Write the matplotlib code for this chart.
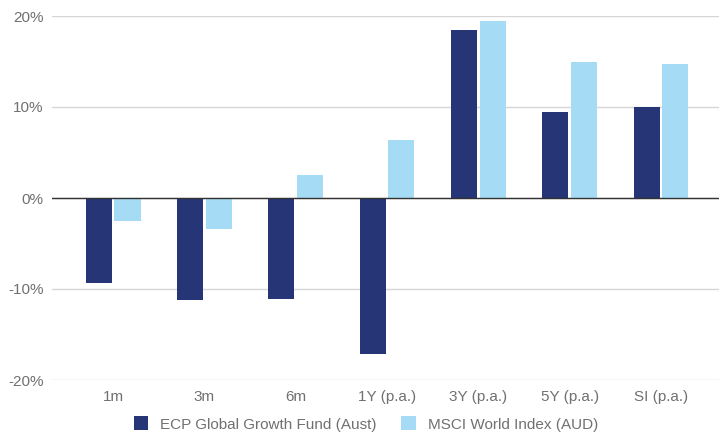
import matplotlib
matplotlib.use("Agg")
import matplotlib.pyplot as plt
from matplotlib.patches import Patch
import numpy as np

categories = ["1m", "3m", "6m", "1Y (p.a.)", "3Y (p.a.)", "5Y (p.a.)", "SI (p.a.)"]
ecp = [-9.3, -11.2, -11.1, -17.1, 18.5, 9.4, 10.0]
msci = [-2.5, -3.4, 2.5, 6.4, 19.4, 14.9, 14.7]
series_names = ["ECP Global Growth Fund (Aust)", "MSCI World Index (AUD)"]
yticks = [-20, -10, 0, 10, 20]

plt.rcParams['font.family'] = ['Liberation Sans', 'DejaVu Sans']
dark = "#253575"
light = "#A6DBF5"

fig = plt.figure(figsize=(7.19, 4.38), dpi=100)
ax = fig.add_axes([52/719, (438-380)/438, 1-52/719, (380-16)/438])

x = np.arange(len(categories))
w = 0.285
gap = 0.016
ax.bar(x - w/2 - gap, ecp, width=w, color=dark, zorder=3)
ax.bar(x + w/2 + gap, msci, width=w, color=light, zorder=3)

ax.set_ylim(-20, 20)
ax.set_xlim(-0.668, 6.635)
ax.set_yticks(yticks)
ax.set_yticklabels([f"{t}%" for t in yticks])
ax.set_xticks(x)
ax.set_xticklabels(categories)
ax.tick_params(axis='both', length=0, labelsize=11, labelcolor="#707070")
ax.tick_params(axis='y', pad=6)
ax.tick_params(axis='x', pad=7)
for s in ax.spines.values():
    s.set_visible(False)
ax.grid(axis='y', color="#d6d6d6", linewidth=1, zorder=0)
ax.axhline(0, color="#333333", linewidth=1, zorder=4)

handles = [Patch(facecolor=dark), Patch(facecolor=light)]
fig.legend(handles, series_names, loc="center", bbox_to_anchor=(366/719, (438-424)/438),
           ncol=2, frameon=False, fontsize=11, labelcolor="#707070",
           handlelength=0.95, handleheight=1.0, columnspacing=1.6, handletextpad=0.8,
           borderpad=0, borderaxespad=0)

fig.savefig("out.png", dpi=100, facecolor="white")
